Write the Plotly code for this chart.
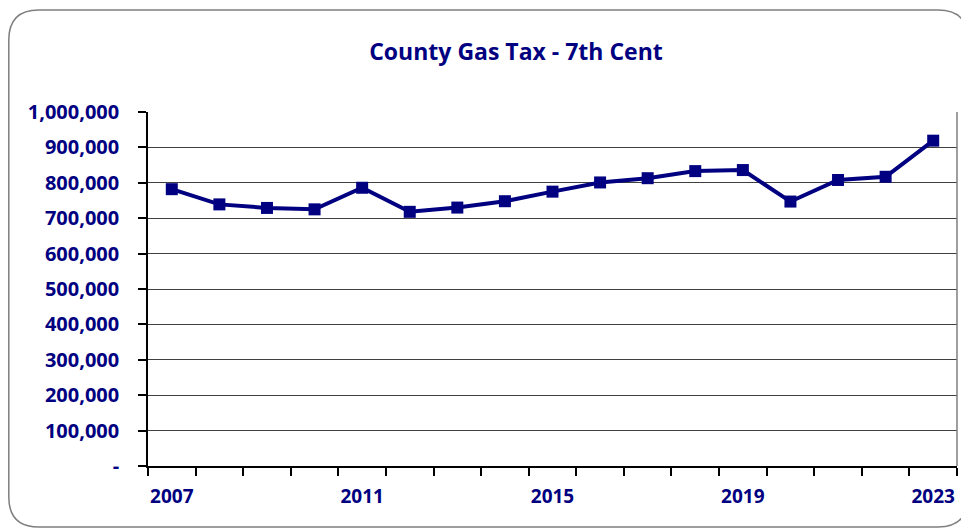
import plotly.graph_objects as go

years = [str(y) for y in range(2007, 2024)]
revenue = [782000, 739000, 729000, 725000, 786000, 718000, 730000, 748000, 775000,
           801000, 813000, 833000, 836000, 747000, 808000, 817000, 919000]
y_ticks = [0, 100000, 200000, 300000, 400000, 500000, 600000, 700000, 800000, 900000, 1000000]
y_labels = ["-"] + [f"{v:,}" for v in y_ticks[1:]]
x_labels = [y if (int(y) - 2007) % 4 == 0 else "" for y in years]

NAVY = "#000080"
# page body has an 8px margin; the figure is laid out in its own coordinates
W, H = 961, 523
L, R, T, B = 140, 12, 104, 65
pw, ph = W - L - R, H - T - B

def px(x):
    return (x - L) / pw

def py(y):
    return (H - B - y) / ph

# rounded outer frame path in paper coords
x0, x1, y0, y1, r = 0.8, 960, 2, 519, 30
path = (f"M {px(x0+r)},{py(y0)} L {px(x1-r)},{py(y0)} Q {px(x1)},{py(y0)} {px(x1)},{py(y0+r)} "
        f"L {px(x1)},{py(y1-r)} Q {px(x1)},{py(y1)} {px(x1-r)},{py(y1)} "
        f"L {px(x0+r)},{py(y1)} Q {px(x0)},{py(y1)} {px(x0)},{py(y1-r)} "
        f"L {px(x0)},{py(y0+r)} Q {px(x0)},{py(y0)} {px(x0+r)},{py(y0)} Z")

fig = go.Figure()
fig.add_trace(go.Scatter(
    x=years, y=revenue, mode="lines+markers",
    line=dict(color=NAVY, width=4),
    marker=dict(symbol="square", size=12, color=NAVY),
    hoverinfo="x+y", showlegend=False,
))

font_family = "Open Sans, Liberation Sans, sans-serif"

fig.update_layout(
    width=W, height=H,
    margin=dict(l=L, r=R, t=T, b=B),
    paper_bgcolor="white", plot_bgcolor="white",
    title=dict(text="<b>County Gas Tax - 7th Cent</b>", x=px(508), xref="paper", xanchor="center",
               y=1 - 44 / H, yanchor="middle",
               font=dict(family=font_family, size=23, color=NAVY)),
    shapes=[dict(type="path", path=path, xref="paper", yref="paper",
                 line=dict(color="#7f7f7f", width=1.5), layer="below")],
)

fig.update_xaxes(
    type="category", tickson="boundaries", range=[-0.5, len(years) - 0.5],
    tickmode="array", tickvals=years, ticktext=x_labels, tickangle=0,
    ticks="outside", ticklen=8, tickcolor="black", tickwidth=1.5,
    showline=True, linecolor="black", linewidth=1.5,
    showgrid=False, ticklabelstandoff=12,
    tickfont=dict(family=font_family, size=19, color=NAVY, weight="bold"),
)
fig.update_yaxes(
    range=[0, 1000000], tickmode="array", tickvals=y_ticks, ticktext=y_labels,
    ticks="outside", ticklen=8, tickcolor="black", tickwidth=1.5,
    showline=True, linecolor="black", linewidth=1.5,
    showgrid=True, gridcolor="#404040", gridwidth=1.2,
    zeroline=False, ticklabelstandoff=15,
    tickfont=dict(family=font_family, size=20, color=NAVY, weight="bold"),
)
# right border of plot area
fig.add_shape(type="line", xref="paper", yref="paper", x0=1, x1=1, y0=0, y1=1,
              line=dict(color="#7f7f7f", width=1.5))

fig.write_html("out.html")
